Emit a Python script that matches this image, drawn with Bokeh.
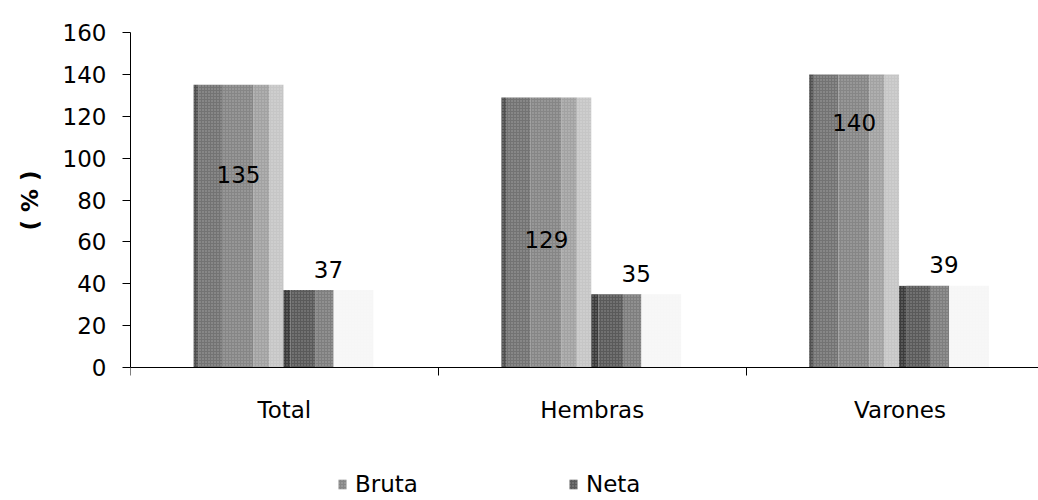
import numpy as np
from bokeh.plotting import figure
from bokeh.models import (Range1d, FixedTicker, Legend, LegendItem, LinearAxis, Title)
from bokeh.core.properties import value
from bokeh.embed import file_html
from bokeh.resources import INLINE

# ---- data ----
categories = ["Total", "Hembras", "Varones"]
bruta = [135, 129, 140]
neta = [37, 35, 39]
y_ticks = [0, 20, 40, 60, 80, 100, 120, 140, 160]
series_names = ["Bruta", "Neta"]
y_title = "( % )"

# ---- style / layout ----
FONT = "DejaVu Sans"
FS = "23px"
Y_MAX = 160
Y_MIN_VIEW = -63.5          # room below the axis for category labels and the legend
# vertical strips (start, end as fraction of category width, colour) to imitate shading
BRUTA_STRIPS = [(0.205, 0.22, "#505050"), (0.22, 0.30, "#737373"),
                (0.30, 0.40, "#868686"), (0.40, 0.45, "#a2a2a2"),
                (0.45, 0.497, "#c6c6c6")]
NETA_STRIPS = [(0.497, 0.52, "#3c3c3c"), (0.52, 0.60, "#5a5a5a"),
               (0.60, 0.66, "#7e7e7e"), (0.66, 0.789, "#f6f6f6")]
BRUTA_CENTER = 0.351
NETA_CENTER = 0.643
BRUTA_LABEL_POS = [92, 61, 117]   # label baselines inside the Bruta bars
NETA_LABEL_GAP = 10

p = figure(width=1038, height=500, output_backend="svg", toolbar_location=None,
           x_range=Range1d(0, 2.95), y_range=Range1d(Y_MIN_VIEW, Y_MAX),
           x_axis_location=None,
           min_border_left=130, min_border_right=0, min_border_top=32,
           min_border_bottom=0)
p.outline_line_color = None
p.grid.visible = False
p.background_fill_color = "white"
p.border_fill_color = "white"

idx = np.arange(len(categories))

renderers = {}
for name, vals, strips in (("Bruta", bruta, BRUTA_STRIPS), ("Neta", neta, NETA_STRIPS)):
    rs = []
    for (a, b, col) in strips:
        r = p.vbar(x=idx + (a + b) / 2, width=(b - a), top=vals, bottom=0,
                   fill_color=col, line_color=None,
                   hatch_pattern="dot", hatch_color="white", hatch_alpha=0.35,
                   hatch_scale=3)
        rs.append(r)
    renderers[name] = rs

# value labels
p.text(x=idx + BRUTA_CENTER, y=BRUTA_LABEL_POS, text=[str(v) for v in bruta],
       text_align="center", text_baseline="alphabetic", text_font=value(FONT),
       text_font_size=FS, text_color="black")
p.text(x=idx + NETA_CENTER, y=np.array(neta) + NETA_LABEL_GAP, text=[str(v) for v in neta],
       text_align="center", text_baseline="alphabetic", text_font=value(FONT),
       text_font_size=FS, text_color="black")

# x axis fixed at y = 0
xa = LinearAxis(fixed_location=0)
p.add_layout(xa, "below")
xa.ticker = FixedTicker(ticks=list(idx + 0.5), minor_ticks=list(idx))
xa.major_label_overrides = {float(i + 0.5): c for i, c in enumerate(categories)}
xa.major_tick_out = 0
xa.major_tick_in = 0
xa.minor_tick_out = 8
xa.minor_tick_in = 0
xa.minor_tick_line_color = "black"
xa.axis_line_color = "black"
xa.major_label_text_font = FONT
xa.major_label_text_font_size = FS
xa.major_label_text_color = "black"
xa.major_label_standoff = 21

ya = p.yaxis[0]
ya.bounds = (0, Y_MAX)
ya.ticker = FixedTicker(ticks=y_ticks)
ya.major_tick_out = 8
ya.major_tick_in = 0
ya.minor_tick_out = 0
ya.minor_tick_in = 0
ya.axis_line_color = "black"
ya.major_tick_line_color = "black"
ya.major_label_text_font = FONT
ya.major_label_text_font_size = FS
ya.major_label_text_color = "black"
ya.major_label_standoff = 16

# y title, placed against the 0-160 span of the axis rather than the whole frame
yt = Title(text=y_title, align="right", offset=138, vertical_align="top",
           text_font=FONT, text_font_size=FS, text_font_style="bold",
           text_color="black", standoff=30)
p.add_layout(yt, "left")

legend = Legend(items=[LegendItem(label=series_names[0], renderers=[renderers["Bruta"][2]]),
                       LegendItem(label=series_names[1], renderers=[renderers["Neta"][1]])],
                orientation="horizontal", location=(207, 3),
                glyph_width=10, glyph_height=12, label_standoff=8, spacing=150,
                padding=0, margin=0, border_line_color=None,
                background_fill_alpha=0, label_text_font=FONT,
                label_text_font_size=FS, label_text_color="black")
p.add_layout(legend, "center")

open("out.html", "w").write(file_html(p, INLINE))
